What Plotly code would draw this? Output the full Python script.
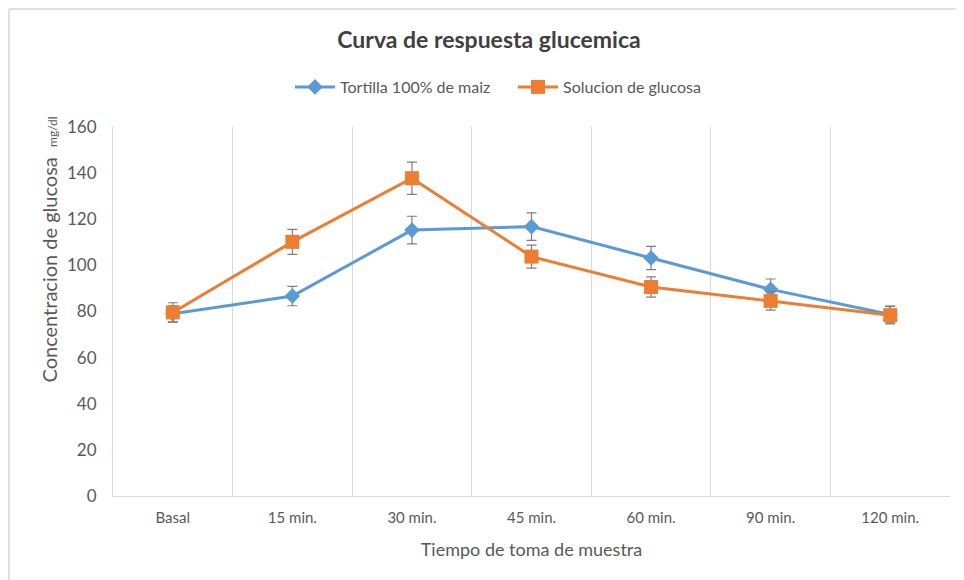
import plotly.graph_objects as go

categories = ["Basal", "15 min.", "30 min.", "45 min.", "60 min.", "90 min.", "120 min."]
tortilla = [79, 86.7, 115.3, 116.8, 103.2, 89.6, 78.7]
tortilla_err = [3.5, 4.2, 6, 6, 5, 4.5, 3.6]
glucosa = [79.6, 110.2, 137.8, 103.8, 90.6, 84.6, 78.4]
glucosa_err = [4.2, 5.4, 7, 5, 4.4, 4, 3.8]

grey_text = "#595959"
font_family = "Lato, 'Open Sans', sans-serif"

fig = go.Figure()
fig.add_trace(go.Scatter(
    x=categories, y=tortilla, name="Tortilla 100% de maiz",
    mode="lines+markers",
    line=dict(color="#5b9bd5", width=3),
    marker=dict(symbol="diamond", size=12, color="#5b9bd5"),
    error_y=dict(type="data", array=tortilla_err, color="#7f7f7f", thickness=1.2, width=5),
))
fig.add_trace(go.Scatter(
    x=categories, y=glucosa, name="Solucion de glucosa",
    mode="lines+markers",
    line=dict(color="#ed7d31", width=3),
    marker=dict(symbol="square", size=14, color="#ed7d31"),
    error_y=dict(type="data", array=glucosa_err, color="#7f7f7f", thickness=1.2, width=5),
))

# page body has an 8px margin, so the figure is placed at (8, 8) in the window
W, H = 956, 572
L, R, T, B = 105, 14, 119, 84
pw, ph = W - L - R, H - T - B

fig.update_layout(
    width=W, height=H,
    margin=dict(l=L, r=R, t=T, b=B, autoexpand=False),
    paper_bgcolor="white", plot_bgcolor="white",
    font=dict(family=font_family, color=grey_text),
    title=dict(text="<b>Curva de respuesta glucemica</b>", x=(489 - 8) / W, xanchor="center",
               y=1 - 32 / H, yanchor="middle", font=dict(size=23, color="#404040")),
    legend=dict(orientation="h", x=(290 - 8 - L) / pw, xanchor="left", y=1 + (T - 79) / ph, yanchor="middle",
                font=dict(size=16, color=grey_text), itemwidth=40, traceorder="normal",
                entrywidth=168),
    xaxis=dict(
        type="category", range=[-0.5, 6.5], tickson="boundaries",
        showgrid=True, gridcolor="#d9d9d9", gridwidth=1,
        showline=True, linecolor="#d9d9d9", linewidth=1,
        ticks="", tickfont=dict(size=15, color=grey_text), ticklabelstandoff=8,
        title=dict(text="Tiempo de toma de muestra", font=dict(size=18, color=grey_text), standoff=18),
        zeroline=False, automargin=False,
    ),
    yaxis=dict(
        range=[0, 160], dtick=20, showgrid=False,
        showline=True, linecolor="#d9d9d9", linewidth=1,
        ticks="", tickfont=dict(size=17, color=grey_text), ticklabelstandoff=12,
        zeroline=False, automargin=False,
    ),
    showlegend=True,
)

# y-axis title placed as an annotation (it sits above the plot centre in the reference)
fig.add_annotation(
    text="Concentracion de glucosa  <span style='font-size:12px'>mg/dl</span>",
    textangle=-90, xref="paper", yref="paper",
    x=(48.5 - 8 - L) / pw, y=1 - (250 - 8 - T) / ph, xanchor="center", yanchor="middle",
    showarrow=False, font=dict(size=20, color=grey_text),
)

# chart area frame (top and left edges visible)
fx0 = -(L - 1) / pw
fy1 = 1 + (T - 1) / ph
fig.add_shape(type="line", xref="paper", yref="paper", x0=fx0, x1=1 + (R + 5) / pw, y0=fy1, y1=fy1,
              line=dict(color="#d9d9d9", width=1.5))
fig.add_shape(type="line", xref="paper", yref="paper", x0=fx0, x1=fx0, y0=-(B + 5) / ph, y1=fy1,
              line=dict(color="#d9d9d9", width=1.5))

fig.write_html("out.html")
